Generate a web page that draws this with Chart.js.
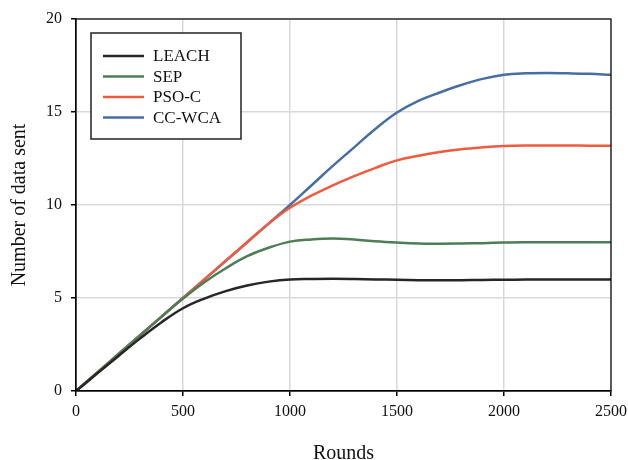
<!DOCTYPE html>
<html><head><meta charset="utf-8">
<script src="https://cdn.jsdelivr.net/npm/chart.js@4"></script>
<style>html,body{margin:0;padding:0;background:#fff}#wrap{width:628px;height:460px}</style>
</head><body><div id="wrap"><canvas id="c"></canvas></div>
<script>
const rounds = [0,100,200,300,400,500,600,700,800,900,1000,1100,1200,1300,1400,1500,1600,1700,1800,1900,2000,2100,2200,2300,2400,2500];
const leach = [0,0.95,1.9,2.83,3.7,4.45,4.97,5.37,5.67,5.88,6.0,6.02,6.03,6.02,6.0,5.98,5.96,5.95,5.96,5.97,5.98,5.99,6.0,6.0,6.0,6.0];
const sep = [0,1,2,3,4,4.97,5.85,6.6,7.25,7.7,8.03,8.15,8.2,8.15,8.05,7.98,7.93,7.92,7.93,7.95,7.98,8.0,8.0,8.0,8.0,8.0];
const psoc = [0,1,2,3,4,5,6,7,8,9,9.85,10.5,11.05,11.55,12.0,12.4,12.65,12.85,13.0,13.1,13.17,13.2,13.2,13.2,13.19,13.18];
const ccwca = [0,1,2,3,4,5,6,7,8,9,10.0,11.05,12.1,13.1,14.1,14.97,15.6,16.05,16.45,16.78,17.0,17.08,17.1,17.08,17.05,17.0];
const seriesNames = ['LEACH','SEP','PSO-C','CC-WCA'];
const seriesColors = ['#262626','#4e7d55','#ef5b3d','#476ea3'];
const xTicks = [0,500,1000,1500,2000,2500];
const yTicks = [0,5,10,15,20];

const FONT = 'Liberation Serif';
const all = [leach, sep, psoc, ccwca];
const datasets = all.map((arr,i)=>({
  label: seriesNames[i],
  data: rounds.map((r,j)=>({x:r,y:arr[j]})),
  borderColor: seriesColors[i],
  backgroundColor: seriesColors[i],
  borderWidth: 2.5,
  pointRadius: 0,
  tension: 0.4,
  fill: false
}));

const boxPlugin = {
  id:'boxAndLegend',
  afterDraw(chart){
    const {ctx, chartArea:a} = chart;
    ctx.save();
    ctx.strokeStyle = '#000'; ctx.lineWidth = 1.2;
    ctx.strokeRect(a.left, a.top, a.right-a.left, a.bottom-a.top);
    const lx = 91, ly = 33, lw = 150, lh = 106;
    ctx.fillStyle = '#fff';
    ctx.fillRect(lx, ly, lw, lh);
    ctx.strokeStyle = '#222'; ctx.lineWidth = 1.5;
    ctx.strokeRect(lx, ly, lw, lh);
    ctx.font = '17px "' + FONT + '"';
    ctx.textBaseline = 'middle';
    chart.data.datasets.forEach((ds,i)=>{
      const y = 56 + i*20.5;
      ctx.strokeStyle = ds.borderColor; ctx.lineWidth = 2.5;
      ctx.beginPath(); ctx.moveTo(103,y); ctx.lineTo(144,y); ctx.stroke();
      ctx.fillStyle = '#111';
      ctx.fillText(ds.label, 153, y+1);
    });
    ctx.restore();
  }
};

new Chart(document.getElementById('c'), {
  type:'line',
  data:{datasets},
  options:{
    responsive:true, maintainAspectRatio:false, animation:false,
    layout:{padding:{top:19,right:17,left:0,bottom:0}},
    plugins:{legend:{display:false}, tooltip:{enabled:false}},
    scales:{
      x:{type:'linear', min:0, max:2500,
        afterFit(s){s.height=69; s.paddingRight=0; s.paddingLeft=0;},
        afterBuildTicks(s){s.ticks = xTicks.map(v=>({value:v}));},
        grid:{color:'#d9d9d9', lineWidth:1.5, tickColor:'#000', tickLength:5, drawTicks:true},
        border:{color:'#000', width:1.2},
        ticks:{color:'#111', font:{family:FONT, size:16}, padding:6, maxRotation:0, callback:v=>String(v)},
        title:{display:true, text:'Rounds', color:'#111', font:{family:FONT, size:20}, padding:{top:22,bottom:-6}}
      },
      y:{min:0, max:20,
        afterFit(s){s.width=76; s.paddingTop=0; s.paddingBottom=0;},
        afterBuildTicks(s){s.ticks = yTicks.map(v=>({value:v}));},
        grid:{color:'#d9d9d9', lineWidth:1.5, tickColor:'#000', tickLength:5},
        border:{color:'#000', width:1.2},
        ticks:{color:'#111', font:{family:FONT, size:16}, padding:9, callback:v=>String(v)},
        title:{display:true, text:'Number of data sent', color:'#111', font:{family:FONT, size:20}, padding:{top:8,bottom:10}}
      }
    }
  },
  plugins:[boxPlugin]
});
</script></body></html>
